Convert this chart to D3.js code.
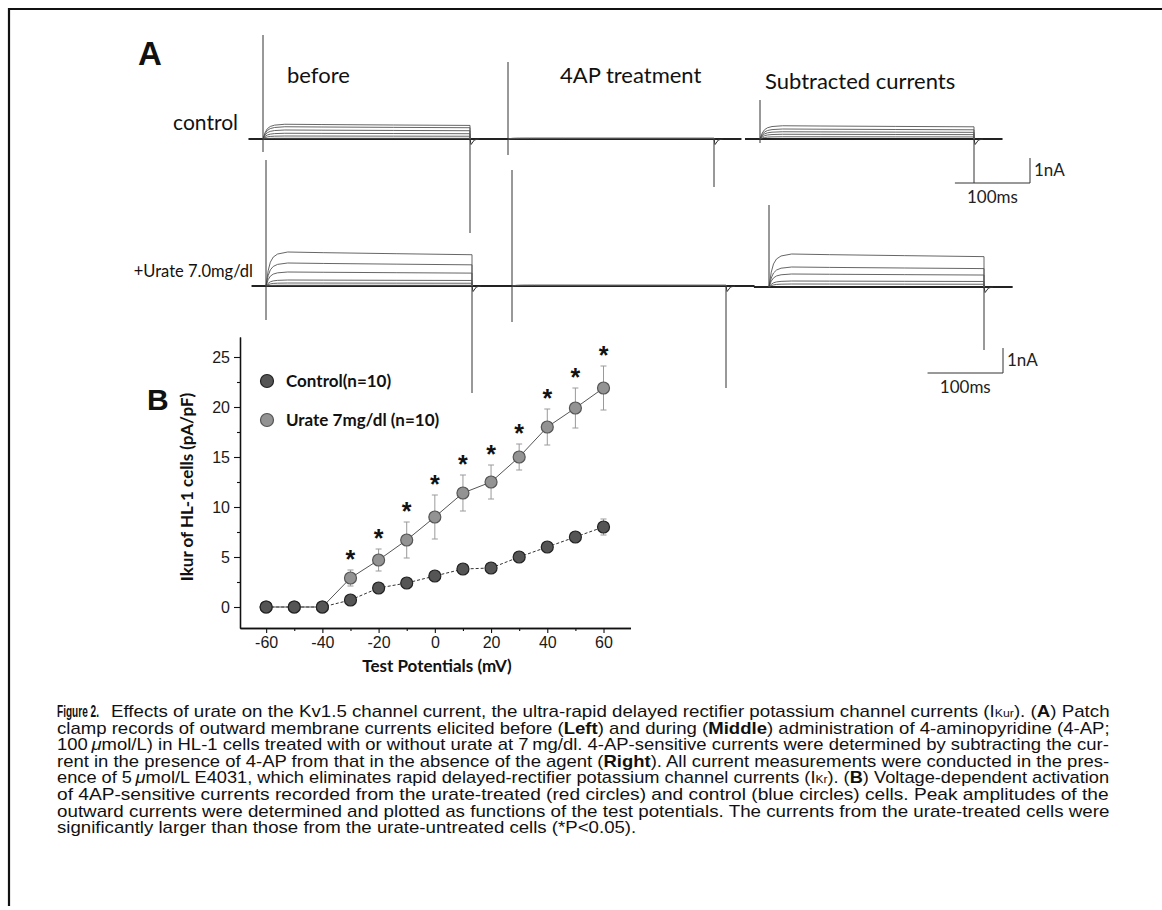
<!DOCTYPE html>
<html><head><meta charset="utf-8">
<script src="https://cdn.jsdelivr.net/npm/d3@7"></script>
<style>
body{margin:0;background:#fff}
svg{display:block}
</style>
</head><body>
<svg id="fig" width="1162" height="910"></svg>
<script>
// ================= DATA =================
// ---- Panel B : I-V relation ----
const potentials   = [-60,-50,-40,-30,-20,-10,0,10,20,30,40,50,60];
const controlMean  = [0,0,0,0.7,1.9,2.4,3.1,3.8,3.9,5.0,6.0,7.0,8.0];
const controlSem   = [0,0,0,0.3,0.5,0.5,0.4,0.3,0.4,0.4,0.4,0.5,0.8];
const urateMean    = [0,0,0,2.9,4.7,6.7,9.0,11.4,12.5,15.0,18.0,19.9,21.9];
const urateSem     = [0,0,0,0.8,1.1,1.8,2.2,1.8,1.7,1.3,1.8,2.0,2.2];
const significant  = [0,0,0,1,1,1,1,1,1,1,1,1,1];
const xTickValues  = [-60,-40,-20,0,20,40,60];
const xMinorTicks  = [-50,-30,-10,10,30,50];
const yTickValues  = [0,5,10,15,20,25];
const yMinorTicks  = [2.5,7.5,12.5,17.5,22.5];
const seriesNames  = ["Control(n=10)","Urate 7mg/dl (n=10)"];
const xAxisTitle   = "Test Potentials (mV)";
const yAxisTitle   = "Ikur of HL-1 cells (pA/pF)";

// ---- Panel A : current traces ----
const columnTitles   = ["before","4AP treatment","Subtracted currents"];
const rowLabels      = ["control","+Urate 7.0mg/dl"];
const pulseDuration  = 285;                 // ms
const shapeTimes     = [0,3,6,10,16,30,80,180,285];          // ms
const shapeLevels    = [0,0.45,0.7,0.85,0.94,1.0,0.98,0.95,0.92]; // relative amplitude
// steady-state sweep amplitudes (nA)
const ctrlBeforeAmps  = [0.59,0.49,0.36,0.23,0.12,0.03];
const ctrl4APAmps     = [0.04,0.02];
const ctrlSubAmps     = [0.53,0.40,0.29,0.19,0.09];
const urateBeforeAmps = [1.36,0.92,0.56,0.24,0.12,0.03];
const urate4APAmps    = [0.04,0.02];
const urateSubAmps    = [1.32,0.80,0.52,0.24,0.12];
// capacitive transients (nA): [onset peak up, onset peak down, offset peak down]
const ctrlBeforeTrans  = [4.16,0.52,3.76];
const ctrl4APTrans     = [3.08,0.64,1.92];
const ctrlSubTrans     = [1.56,0.16,1.76];
const urateBeforeTrans = [5.04,1.36,4.28];
const urate4APTrans    = [4.64,1.44,4.08];
const urateSubTrans    = [3.28,0.00,2.52];
const scaleBarTime     = 100;  // ms
const scaleBarCurrent  = 1;    // nA
const scaleBarLabels   = ["100ms","1nA"];

// ---- Caption ----
const captionHead = "Figure 2.";
const captionLines = [
 [["Effects of urate on the Kv1.5 channel current, the ultra-rapid delayed rectifier potassium channel currents (I","n"],["Kur","sub"],["). (","n"],["A","b"],[") Patch","n"]],
 [["clamp records of outward membrane currents elicited before (","n"],["Left","b"],[") and during (","n"],["Middle","b"],[") administration of 4-aminopyridine (4-AP;","n"]],
 [["100\u2009","n"],["\u03bc","i"],["mol/L) in HL-1 cells treated with or without urate at 7\u2009mg/dl. 4-AP-sensitive currents were determined by subtracting the cur-","n"]],
 [["rent in the presence of 4-AP from that in the absence of the agent (","n"],["Right","b"],["). All current measurements were conducted in the pres-","n"]],
 [["ence of 5\u2009","n"],["\u03bc","i"],["mol/L E4031, which eliminates rapid delayed-rectifier potassium channel currents (I","n"],["Kr","sub"],["). (","n"],["B","b"],[") Voltage-dependent activation","n"]],
 [["of 4AP-sensitive currents recorded from the urate-treated (red circles) and control (blue circles) cells. Peak amplitudes of the","n"]],
 [["outward currents were determined and plotted as functions of the test potentials. The currents from the urate-treated cells were","n"]],
 [["significantly larger than those from the urate-untreated cells (*P<0.05).","n"]]
];

// ================= DRAWING =================
const svg = d3.select("#fig");
const LABEL_FONT = "Lato, 'Open Sans', sans-serif";
const ARIAL = "'Liberation Sans', Arial, sans-serif";

// frame
svg.append("line").attr("x1",8).attr("x2",1162).attr("y1",9).attr("y2",9)
  .attr("stroke","#111").attr("stroke-width",2.2);
svg.append("line").attr("x1",9).attr("x2",9).attr("y1",8).attr("y2",906)
  .attr("stroke","#111").attr("stroke-width",2.2);

// panel letters
svg.append("text").attr("x",138).attr("y",65).text("A")
  .attr("font-family",ARIAL).attr("font-weight","bold").attr("font-size",33).attr("fill","#111");
svg.append("text").attr("x",147).attr("y",410).text("B")
  .attr("font-family",ARIAL).attr("font-weight","bold").attr("font-size",30).attr("fill","#111");

// ---------- Panel A ----------
const panels = [
  {amps:ctrlBeforeAmps,  trans:ctrlBeforeTrans,  x0:263, x1:470, y0:139},
  {amps:ctrl4APAmps,     trans:ctrl4APTrans,     x0:508, x1:714, y0:139},
  {amps:ctrlSubAmps,     trans:ctrlSubTrans,     x0:760, x1:974, y0:139},
  {amps:urateBeforeAmps, trans:urateBeforeTrans, x0:266, x1:472, y0:286},
  {amps:urate4APAmps,    trans:urate4APTrans,    x0:512, x1:726, y0:286},
  {amps:urateSubAmps,    trans:urateSubTrans,    x0:769, x1:984, y0:287}
];
const pxPerNA = 25;
const gA = svg.append("g");
panels.forEach((p,pi) => {
  const tx = d3.scaleLinear().domain([0,pulseDuration]).range([p.x0,p.x1]);
  const cy = d3.scaleLinear().domain([0,1]).range([p.y0,p.y0-pxPerNA]);
  const g = gA.append("g");
  g.append("line").attr("x1",tx(-20)).attr("x2",tx(pulseDuration+38))
    .attr("y1",cy(0)).attr("y2",cy(0)).attr("stroke","#222").attr("stroke-width",1.8);
  const line = d3.line().x(d=>tx(d[0])).y(d=>cy(d[1]));
  p.amps.forEach(a => {
    const pts = shapeTimes.map((t,i)=>[t, a*shapeLevels[i]]);
    pts.push([pulseDuration,0]);
    g.append("path").attr("d",line(pts)).attr("fill","none")
      .attr("stroke","#555").attr("stroke-width",0.9);
  });
  g.append("line").attr("x1",tx(0)).attr("x2",tx(0))
    .attr("y1",cy(p.trans[0])).attr("y2",cy(-p.trans[1]))
    .attr("stroke","#333").attr("stroke-width",1);
  g.append("line").attr("x1",tx(pulseDuration)).attr("x2",tx(pulseDuration))
    .attr("y1",cy(0)).attr("y2",cy(-p.trans[2]))
    .attr("stroke","#333").attr("stroke-width",1);
  g.append("path").attr("d",line([[pulseDuration,0],[pulseDuration+1.5,-0.22],[pulseDuration+6,-0.04],[pulseDuration+12,0]]))
    .attr("fill","none").attr("stroke","#333").attr("stroke-width",1);

  if (pi===2 || pi===5) {
    const right = pi===2 ? 1030 : 1003;
    const bottom = pi===2 ? 183 : 373;
    const w = tx(scaleBarTime)-tx(0);
    const h = cy(0)-cy(scaleBarCurrent);
    g.append("path").attr("d",`M${right-w},${bottom}H${right}V${bottom-h}`)
      .attr("fill","none").attr("stroke","#333").attr("stroke-width",1);
    g.append("text").attr("x",right-w/2).attr("y",bottom+20).attr("text-anchor","middle")
      .text(scaleBarLabels[0]).attr("font-family",LABEL_FONT).attr("font-size",17).attr("fill","#222");
    g.append("text").attr("x",right+4).attr("y",bottom-7)
      .text(scaleBarLabels[1]).attr("font-family",LABEL_FONT).attr("font-size",17).attr("fill","#222");
  }
});
[[287,83],[560,83],[765,89]].forEach((pos,i)=>{
  svg.append("text").attr("x",pos[0]).attr("y",pos[1]).text(columnTitles[i])
    .attr("font-family",LABEL_FONT).attr("font-size",22).attr("fill","#111");
});
[[238,130,21],[253,277,16.5]].forEach((pos,i)=>{
  svg.append("text").attr("x",pos[0]).attr("y",pos[1]).attr("text-anchor","end").text(rowLabels[i])
    .attr("font-family",LABEL_FONT).attr("font-size",pos[2]).attr("fill","#111");
});

// ---------- Panel B ----------
const x = d3.scaleLinear().domain([-69.3,69.6]).range([240,630.5]);
const y = d3.scaleLinear().domain([-2.1,27]).range([628,337]);
const gB = svg.append("g");

const styleAxis = sel => {
  sel.select(".domain").attr("stroke","#111").attr("stroke-width",1.3);
  sel.selectAll(".tick line").attr("stroke","#111").attr("stroke-width",1.1);
  sel.selectAll(".tick text").attr("font-family",ARIAL).attr("font-size",16).attr("fill","#1a1a1a");
};
gB.append("g").attr("transform","translate(0,628)")
  .call(d3.axisBottom(x).tickValues(xMinorTicks).tickSize(3).tickSizeOuter(0).tickFormat(""))
  .call(styleAxis);
gB.append("g").attr("transform","translate(0,628)")
  .call(d3.axisBottom(x).tickValues(xTickValues).tickSize(5).tickSizeOuter(0).tickPadding(4).tickFormat(d=>String(d)))
  .call(styleAxis);
gB.append("g").attr("transform","translate(240,0)")
  .call(d3.axisLeft(y).tickValues(yMinorTicks).tickSize(3).tickSizeOuter(0).tickFormat(""))
  .call(styleAxis);
gB.append("g").attr("transform","translate(240,0)")
  .call(d3.axisLeft(y).tickValues(yTickValues).tickSize(6).tickSizeOuter(0).tickPadding(4).tickFormat(d=>String(d)))
  .call(styleAxis);

gB.append("text").attr("x",437).attr("y",672).attr("text-anchor","middle").text(xAxisTitle)
  .attr("font-family",LABEL_FONT).attr("font-weight","bold").attr("font-size",17).attr("fill","#111");
gB.append("text").attr("transform","translate(193,487) rotate(-90)").attr("text-anchor","middle").text(yAxisTitle)
  .attr("font-family",LABEL_FONT).attr("font-weight","bold").attr("font-size",17).attr("fill","#111");

const series = [
  {mean:controlMean, sem:controlSem, fill:"#555", stroke:"#222", line:"#333", dash:"3,2"},
  {mean:urateMean,   sem:urateSem,   fill:"#939393", stroke:"#555", line:"#555", dash:null}
];
series.forEach(s=>{
  const g = gB.append("g");
  potentials.forEach((p,i)=>{
    if (s.sem[i] <= 0) return;
    const cx = x(p), top = y(s.mean[i]+s.sem[i]), bot = y(s.mean[i]-s.sem[i]);
    g.append("line").attr("x1",cx).attr("x2",cx).attr("y1",top).attr("y2",bot)
      .attr("stroke","#9a9a9a").attr("stroke-width",1);
    [top,bot].forEach(yy=>g.append("line").attr("x1",cx-3).attr("x2",cx+3).attr("y1",yy).attr("y2",yy)
      .attr("stroke","#9a9a9a").attr("stroke-width",1));
  });
});
series.forEach(s=>{
  const ln = d3.line().x((d,i)=>x(potentials[i])).y(d=>y(d));
  gB.append("path").attr("d",ln(s.mean)).attr("fill","none").attr("stroke",s.line)
    .attr("stroke-width",1).attr("stroke-dasharray",s.dash);
});
[series[1],series[0]].forEach(s=>{
  gB.append("g").selectAll("circle").data(s.mean).join("circle")
    .attr("cx",(d,i)=>x(potentials[i])).attr("cy",d=>y(d)).attr("r",6)
    .attr("fill",s.fill).attr("stroke",s.stroke).attr("stroke-width",1.2);
});
gB.append("g").selectAll("text").data(potentials.filter((p,i)=>significant[i])).join("text")
  .attr("x",d=>x(d)).attr("y",d=>{const i=potentials.indexOf(d); return y(urateMean[i]+urateSem[i])-2;})
  .attr("text-anchor","middle").text("*")
  .attr("font-family",ARIAL).attr("font-weight","bold").attr("font-size",25).attr("fill","#111");

const legendItems = [{s:series[0],name:seriesNames[0],y:381},{s:series[1],name:seriesNames[1],y:420}];
legendItems.forEach(it=>{
  gB.append("circle").attr("cx",267).attr("cy",it.y).attr("r",6.5)
    .attr("fill",it.s.fill).attr("stroke",it.s.stroke).attr("stroke-width",1.2);
  gB.append("text").attr("x",286).attr("y",it.y+6).text(it.name)
    .attr("font-family",LABEL_FONT).attr("font-weight","bold").attr("font-size",17).attr("fill","#111");
});

// ---------- Caption (condensed by horizontal scaling) ----------
const capX = 57, capRight = 1110, capY0 = 717, capStep = 16.6, capFont = 16;
function condensed(x0, yb, width, build) {
  const g = svg.append("g");
  const t = g.append("text").attr("x",0).attr("y",0)
    .attr("font-family",ARIAL).attr("font-size",capFont).attr("fill","#111");
  build(t);
  const w = t.node().getComputedTextLength();
  const sx = width==null ? null : width/w;
  return {g, w, apply:(s)=>g.attr("transform",`translate(${x0},${yb}) scale(${s},1)`)};
}
const head = condensed(capX, capY0, 42, t=>t.text(captionHead).attr("font-weight","bold").attr("font-size",17));
head.apply(42/head.w);
const ratios = [];
const bodies = captionLines.map((segs,li)=>{
  const x0 = li===0 ? 111 : capX;
  const c = condensed(x0, capY0+li*capStep, null, t=>{
    segs.forEach(([txt,st])=>{
      const ts = t.append("tspan").text(txt);
      if (st==="b") ts.attr("font-weight","bold");
      if (st==="i") ts.attr("font-style","italic");
      if (st==="sub") ts.attr("font-size",10.5);
    });
  });
  c.x0 = x0;
  return c;
});
bodies.forEach((c,i)=>{
  if (i < bodies.length-1) { const r=(capRight-c.x0)/c.w; ratios.push(r); c.apply(r); }
});
bodies[bodies.length-1].apply(d3.mean(ratios));
</script>
</body></html>
